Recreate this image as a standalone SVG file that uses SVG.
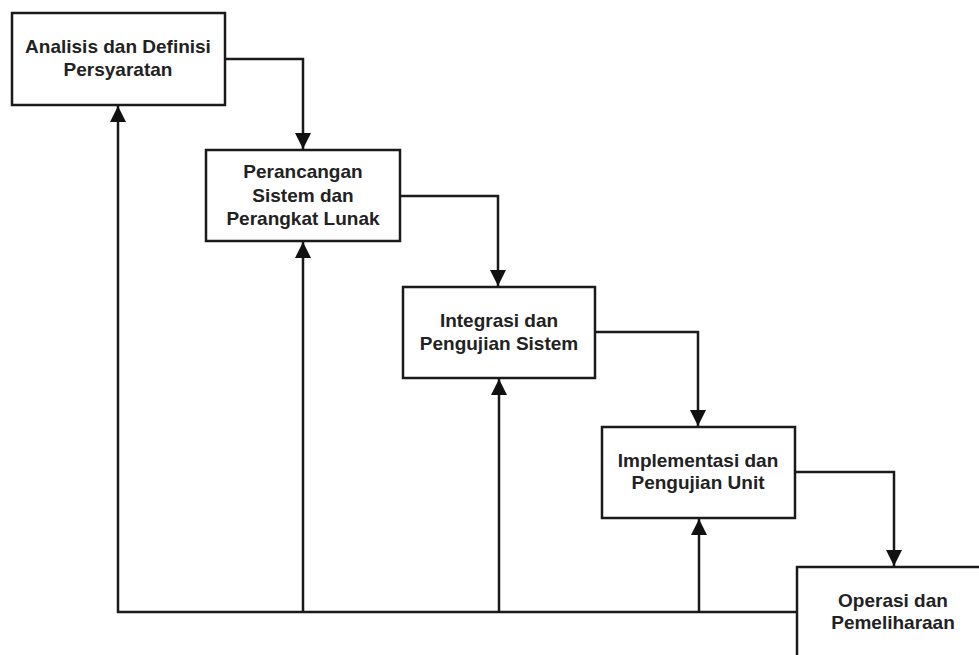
<svg xmlns="http://www.w3.org/2000/svg" width="979" height="655" viewBox="0 0 979 655">
  <defs>
    <marker id="arrow" viewBox="0 0 16 16" markerWidth="16" markerHeight="16" refX="16" refY="8" orient="auto" markerUnits="userSpaceOnUse">
      <path d="M0,0 L16,8 L0,16 z" fill="#111"/>
    </marker>
  </defs>
  <style>
    .box { fill: #ffffff; stroke: #1a1a1a; stroke-width: 2.5; }
    .lbl { font-family: "Liberation Sans", Arial, sans-serif; font-weight: bold; font-size: 19px; fill: #222; text-anchor: middle; }
    .conn { fill: none; stroke: #1a1a1a; stroke-width: 2.5; }
  </style>
  <rect width="979" height="655" fill="#ffffff"/>

  <g id="connectors">
    <path class="conn" d="M225,59 H303 V149" marker-end="url(#arrow)"/>
    <path class="conn" d="M400,196 H498 V286" marker-end="url(#arrow)"/>
    <path class="conn" d="M595,332 H698 V426" marker-end="url(#arrow)"/>
    <path class="conn" d="M795,472 H894 V566" marker-end="url(#arrow)"/>
    <path class="conn" d="M797,612 H118 V106" marker-end="url(#arrow)"/>
    <path class="conn" d="M303,612 V242" marker-end="url(#arrow)"/>
    <path class="conn" d="M499,612 V379" marker-end="url(#arrow)"/>
    <path class="conn" d="M699,612 V519" marker-end="url(#arrow)"/>
  </g>

  <g id="node1">
    <rect class="box" x="12" y="13" width="213" height="92"/>
    <text class="lbl" x="118" y="53">Analisis dan Definisi</text>
    <text class="lbl" x="118" y="76">Persyaratan</text>
  </g>
  <g id="node2">
    <rect class="box" x="206" y="150" width="194" height="91"/>
    <text class="lbl" x="303" y="178">Perancangan</text>
    <text class="lbl" x="303" y="202">Sistem dan</text>
    <text class="lbl" x="303" y="225">Perangkat Lunak</text>
  </g>
  <g id="node3">
    <rect class="box" x="403" y="287" width="192" height="91"/>
    <text class="lbl" x="499" y="327">Integrasi dan</text>
    <text class="lbl" x="499" y="350">Pengujian Sistem</text>
  </g>
  <g id="node4">
    <rect class="box" x="602" y="427" width="193" height="91"/>
    <text class="lbl" x="698" y="467">Implementasi dan</text>
    <text class="lbl" x="698" y="489">Pengujian Unit</text>
  </g>
  <g id="node5">
    <rect class="box" x="797" y="567" width="200" height="100"/>
    <text class="lbl" x="893" y="607">Operasi dan</text>
    <text class="lbl" x="893" y="629">Pemeliharaan</text>
  </g>
</svg>
